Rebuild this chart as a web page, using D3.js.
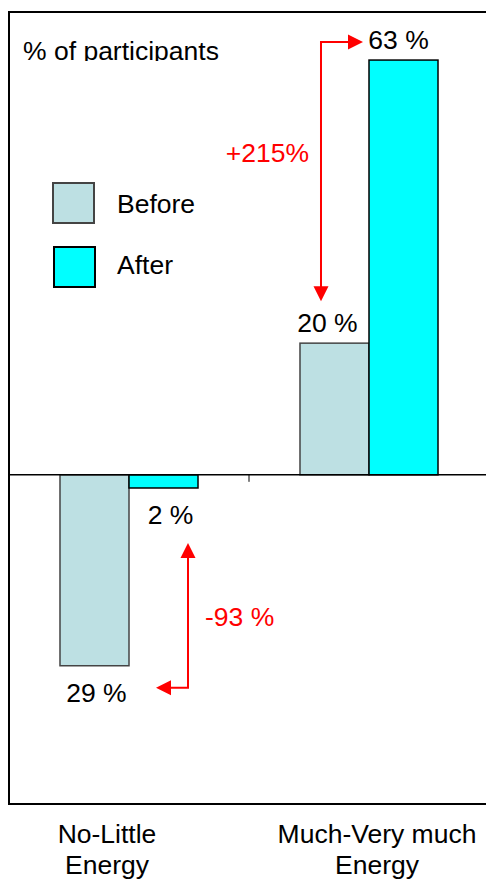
<!DOCTYPE html>
<html><head><meta charset="utf-8">
<script src="https://cdn.jsdelivr.net/npm/d3@7"></script>
<style>body{margin:0;background:#fff} svg{display:block} text{font-family:Arial,"Liberation Sans",sans-serif}</style>
</head><body><svg id="c" width="486" height="881"></svg>
<script>
const categories = ["No-Little Energy", "Much-Very much Energy"];
const categoryLines = [["No-Little", "Energy"], ["Much-Very much", "Energy"]];
const series = ["Before", "After"];
const beforeValues = [-29, 20];
const afterValues = [-2, 63];
const beforeLabels = ["29 %", "20 %"];
const afterLabels = ["2 %", "63 %"];
const changeLabels = ["-93 %", "+215%"];
const yTitle = "% of participants";

const colors = {Before: "#bde0e3", After: "#00ffff"};
const strokes = {Before: "#444", After: "#000"};
const FS = 26.5;

const svg = d3.select("#c");
const plot = {left: 9, right: 489, top: 12, bottom: 804};

const x = d3.scaleBand().domain(categories).range([plot.left, plot.right]).padding(0);
const xi = d3.scaleBand().domain(series).range([0, x.bandwidth()]).paddingInner(0).paddingOuter(0.739);
const y = d3.scaleLinear().domain([-50, 70.3]).range([plot.bottom, plot.top]);

const clip = svg.append("defs").append("clipPath").attr("id", "tclip");
clip.append("rect").attr("x", 0).attr("y", 0).attr("width", 486).attr("height", 61);

// frame
svg.append("rect").attr("x", plot.left).attr("y", plot.top)
  .attr("width", plot.right - plot.left).attr("height", plot.bottom - plot.top)
  .attr("fill", "none").attr("stroke", "#000").attr("stroke-width", 2);

// bars
const rows = categories.map((c, i) => ({c, i, vals: {Before: beforeValues[i], After: afterValues[i]},
  labs: {Before: beforeLabels[i], After: afterLabels[i]}}));
const g = svg.selectAll("g.cat").data(rows).join("g").attr("class", "cat")
  .attr("transform", d => `translate(${x(d.c)},0)`);
g.selectAll("rect").data(d => series.map(s => ({s, v: d.vals[s]}))).join("rect")
  .attr("x", d => xi(d.s)).attr("width", xi.bandwidth())
  .attr("y", d => y(Math.max(0, d.v))).attr("height", d => Math.abs(y(d.v) - y(0)))
  .attr("fill", d => colors[d.s]).attr("stroke", d => strokes[d.s]).attr("stroke-width", 1.5);

// zero line + tick
svg.append("line").attr("x1", plot.left).attr("x2", plot.right).attr("y1", y(0)).attr("y2", y(0))
  .attr("stroke", "#000").attr("stroke-width", 1.5);
svg.append("line").attr("x1", x(categories[1])).attr("x2", x(categories[1]))
  .attr("y1", y(0)).attr("y2", y(0) + 7).attr("stroke", "#000").attr("stroke-width", 1);

// value labels
const labelOffsets = {Before: [2, -7], After: [7, -5]};
const labelY = {Before: [701, 330], After: [520, 49]};
rows.forEach((d, i) => {
  series.forEach(s => {
    const v = d.vals[s];
    const cx = x(d.c) + xi(s) + xi.bandwidth() / 2 + labelOffsets[s][i];
    const yy = v < 0 ? y(v) + 36 : y(v) - 11;
    svg.append("text").attr("x", cx).attr("y", yy).attr("text-anchor", "middle")
      .attr("font-size", FS).attr("fill", "#000").text(d.labs[s]);
  });
});

// title
svg.append("text").attr("x", 23).attr("y", 60).attr("font-size", FS)
  .attr("clip-path", "url(#tclip)").text(yTitle);

// legend
const leg = [{s: "Before", x: 53, y: 183, ty: 213}, {s: "After", x: 54, y: 247, ty: 274}];
leg.forEach(l => {
  svg.append("rect").attr("x", l.x).attr("y", l.y).attr("width", 41).attr("height", 40)
    .attr("fill", colors[l.s]).attr("stroke", strokes[l.s]).attr("stroke-width", 2);
  svg.append("text").attr("x", 117).attr("y", l.ty).attr("font-size", FS).text(l.s);
});

// category labels
const catDx = [-22, 8];
categories.forEach((c, i) => {
  const cx = x(c) + x.bandwidth() / 2 + catDx[i];
  categoryLines[i].forEach((line, k) => {
    svg.append("text").attr("x", cx).attr("y", 843 + k * 31).attr("text-anchor", "middle")
      .attr("font-size", FS).text(line);
  });
});

// arrows
const red = "#ff0000";
function head(tx, ty, dir) {
  const L = 15, W = 7.5;
  let pts;
  if (dir === "right") pts = [[tx, ty], [tx - L, ty - W], [tx - L, ty + W]];
  if (dir === "left") pts = [[tx, ty], [tx + L, ty - W], [tx + L, ty + W]];
  if (dir === "down") pts = [[tx, ty], [tx - W, ty - L], [tx + W, ty - L]];
  if (dir === "up") pts = [[tx, ty], [tx - W, ty + L], [tx + W, ty + L]];
  svg.append("polygon").attr("points", pts.map(p => p.join(",")).join(" ")).attr("fill", red);
}
// increase arrow (Much-Very much)
{
  const c = categories[1];
  const vx = x(c) + xi("Before") + 21;
  const topY = y(afterValues[1]) - 18;
  const tipDown = y(beforeValues[1]) - 42;
  const tipRight = x(c) + xi("After") - 6;
  svg.append("path").attr("d", `M${vx},${tipDown - 14}V${topY}H${tipRight - 14}`)
    .attr("fill", "none").attr("stroke", red).attr("stroke-width", 2);
  head(vx, tipDown, "down");
  head(tipRight, topY, "right");
  svg.append("text").attr("x", vx - 12).attr("y", 162).attr("text-anchor", "end")
    .attr("font-size", FS).attr("fill", red).text(changeLabels[1]);
}
// decrease arrow (No-Little)
{
  const c = categories[0];
  const vx = x(c) + xi("After") + 59;
  const tipUp = y(afterValues[0]) + 55;
  const botY = y(beforeValues[0]) + 22;
  const tipLeft = x(c) + xi("Before") + xi.bandwidth() + 27;
  svg.append("path").attr("d", `M${vx},${tipUp + 14}V${botY}H${tipLeft + 14}`)
    .attr("fill", "none").attr("stroke", red).attr("stroke-width", 2);
  head(vx, tipUp, "up");
  head(tipLeft, botY, "left");
  svg.append("text").attr("x", vx + 17).attr("y", 626).attr("text-anchor", "start")
    .attr("font-size", FS).attr("fill", red).text(changeLabels[0]);
}
</script></body></html>
